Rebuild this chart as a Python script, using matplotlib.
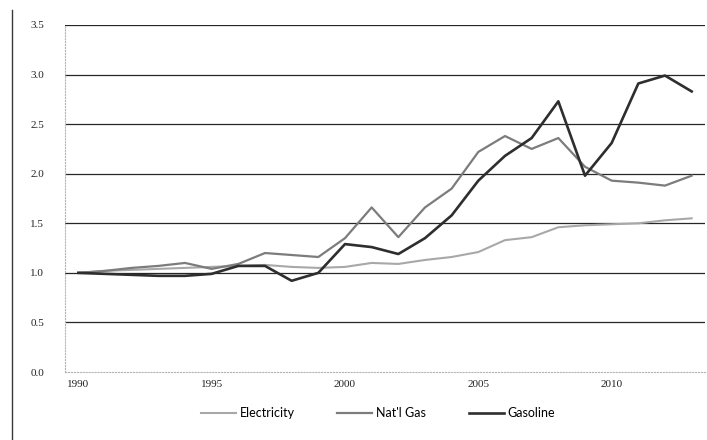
import numpy as np
import matplotlib
matplotlib.use("Agg")
import matplotlib.pyplot as plt
from matplotlib.lines import Line2D

# Price index, 1990 = 1.0
years = np.arange(1990, 2014)
electricity = [1.00, 1.02, 1.03, 1.04, 1.05, 1.06, 1.07, 1.08, 1.06, 1.05, 1.06, 1.10,
               1.09, 1.13, 1.16, 1.21, 1.33, 1.36, 1.46, 1.48, 1.49, 1.50, 1.53, 1.55]
natgas = [1.00, 1.02, 1.05, 1.07, 1.10, 1.04, 1.09, 1.20, 1.18, 1.16, 1.35, 1.66,
          1.36, 1.66, 1.85, 2.22, 2.38, 2.25, 2.36, 2.07, 1.93, 1.91, 1.88, 1.98]
gasoline = [1.00, 0.99, 0.98, 0.97, 0.97, 0.99, 1.07, 1.07, 0.92, 1.00, 1.29, 1.26,
            1.19, 1.35, 1.58, 1.93, 2.18, 2.36, 2.73, 1.98, 2.31, 2.91, 2.99, 2.83]

xticks = [1990, 1995, 2000, 2005, 2010]
yticks = [0.0, 0.5, 1.0, 1.5, 2.0, 2.5, 3.0, 3.5]

W, H = 707, 440
fig = plt.figure(figsize=(W / 100, H / 100), dpi=100)
ax = fig.add_axes([65 / W, 1 - 372 / H, 640 / W, 347 / H])

# horizontal gridlines
for v in yticks[1:]:
    ax.axhline(v, color="#262626", lw=0.9, zorder=1)

ax.plot(years, electricity, color="#a8a8a8", lw=1.5, label="Electricity", zorder=3)
ax.plot(years, natgas, color="#7c7c7c", lw=1.6, label="Nat'l Gas", zorder=3)
ax.plot(years, gasoline, color="#2e2e2e", lw=1.9, label="Gasoline", zorder=4)

ax.set_xlim(1989.5, 2013.5)
ax.set_ylim(0, 3.5)
ax.set_xticks(xticks)
ax.set_yticks(yticks)
ax.set_yticklabels(["%.1f" % v for v in yticks])
ax.tick_params(length=0, labelsize=8, colors="#222")
ax.tick_params(axis="y", pad=15)
ax.tick_params(axis="x", pad=6)
for lab in ax.get_xticklabels() + ax.get_yticklabels():
    lab.set_family("Liberation Serif")

for s in ["top", "right"]:
    ax.spines[s].set_visible(False)
for s in ["left", "bottom"]:
    ax.spines[s].set_color("#b5b5b5")
    ax.spines[s].set_linestyle(":")
    ax.spines[s].set_linewidth(0.8)

fig.legend(loc="center", bbox_to_anchor=(378 / W, 1 - 413 / H), ncol=3, frameon=False,
           prop={"family": "Lato", "size": 9}, handlelength=2.8, handletextpad=0.3,
           columnspacing=3.4)

# border line at the left edge
fig.add_artist(Line2D([12 / W, 12 / W], [0, 1 - 10 / H], color="#3a3a3a", lw=1.0))

fig.savefig("out.png", dpi=100)
